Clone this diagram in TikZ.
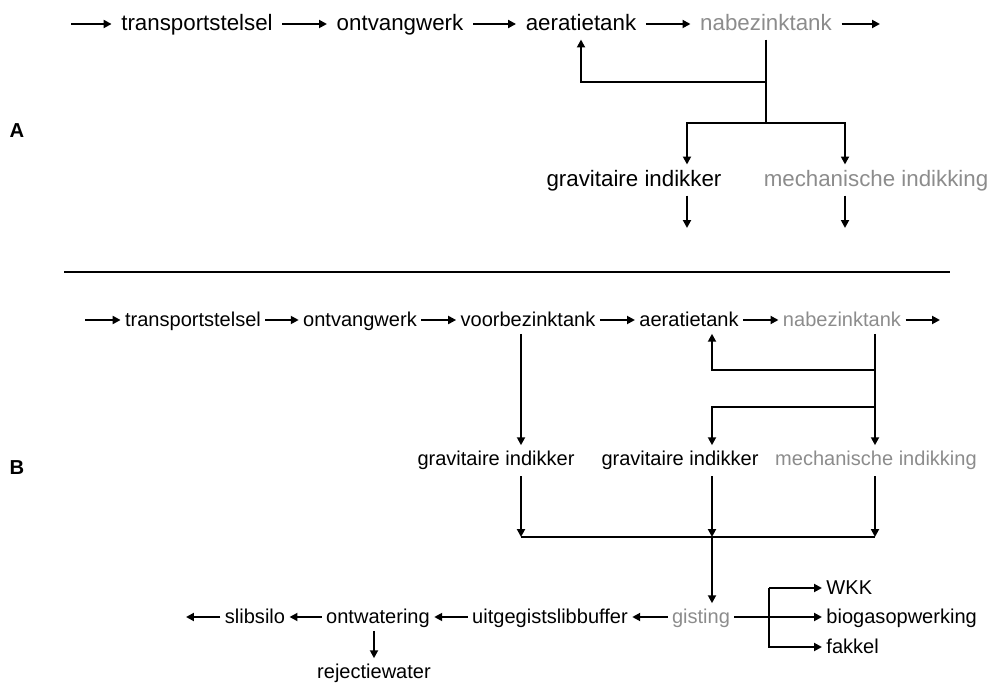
\documentclass[tikz,border=0pt]{standalone}
\usepackage{fontspec}
\setmainfont{Liberation Sans}
\usetikzlibrary{arrows.meta}
\definecolor{paleink}{gray}{0.55}

\begin{document}
\begin{tikzpicture}[x=0.2mm,y=-0.2mm,line width=1.1pt,
	arr/.style={-{Triangle[length=4.5pt,width=4.5pt]}},
	stepA/.style={font=\fontsize{12.7}{15}\selectfont,inner xsep=5pt,inner ysep=3pt,text height=1.7ex,text depth=.3ex},
	stepB/.style={font=\fontsize{11.4}{14}\selectfont,inner xsep=2pt,inner ysep=2pt,text height=1.7ex,text depth=.3ex},
	pale/.style={text=paleink},
	tag/.style={font=\bfseries\fontsize{11.5}{14}\selectfont}]
				\useasboundingbox (0,0) rectangle (991,684);
				\node (labA) at (17,131)[tag] {A};
				\node (labB) at (17,468)[tag] {B};
				\draw[line width=1.5pt] (64,272) -- (950,272);

				\coordinate (inA) at (71,24);
				\coordinate (outA) at (880,24);
				\node (tsA) at (197,24)[stepA] {transportstelsel};
				\node (ovA) at (400,24)[stepA] {ontvangwerk};
				\node (aeA) at (581,24)[stepA] {aeratietank};
				\node (nbA) at (766,24)[stepA,pale] {nabezinktank};
				\node (giA) at (634,180)[stepA] {gravitaire indikker};
				\node (meA) at (754,180)[stepA,pale,anchor=west] {mechanische indikking};
				\draw[arr] (inA) -- (tsA);
				\draw[arr] (tsA) -- (ovA);
				\draw[arr] (ovA) -- (aeA);
				\draw[arr] (aeA) -- (nbA);
				\draw[arr] (nbA) -- (outA);
				\coordinate (fA) at (766,82);
				\coordinate (jA) at (766,123);
				\coordinate (cA1) at (687,123);
				\coordinate (cA2) at (845,123);
				\coordinate (eA1) at (687,228);
				\coordinate (eA2) at (845,228);
				\draw (nbA.south) -- (jA);
				\draw[arr] (fA) -| (aeA.south);
				\draw[arr] (jA) -- (cA1) -- (cA1 |- giA.north);
				\draw[arr] (jA) -- (cA2) -- (cA2 |- meA.north);
				\draw[arr] (cA1 |- giA.south) -- (eA1);
				\draw[arr] (cA2 |- meA.south) -- (eA2);

				\coordinate (inB) at (85,320);
				\coordinate (outB) at (940,320);
				\node (tsB) at (193,320)[stepB] {transportstelsel};
				\node (ovB) at (360,320)[stepB] {ontvangwerk};
				\node (vbB) at (528,320)[stepB] {voorbezinktank};
				\node (aeB) at (689,320)[stepB] {aeratietank};
				\node (nbB) at (842,320)[stepB,pale] {nabezinktank};
				\node (gi1B) at (496,459)[stepB] {gravitaire indikker};
				\node (gi2B) at (680,459)[stepB] {gravitaire indikker};
				\node (meB) at (876,459)[stepB,pale] {mechanische indikking};
				\draw[arr] (inB) -- (tsB);
				\draw[arr] (tsB) -- (ovB);
				\draw[arr] (ovB) -- (vbB);
				\draw[arr] (vbB) -- (aeB);
				\draw[arr] (aeB) -- (nbB);
				\draw[arr] (nbB) -- (outB);
				\coordinate (cB1) at (521,537);
				\coordinate (cB2) at (712,537);
				\coordinate (cB3) at (875,537);
				\coordinate (fB) at (875,370);
				\coordinate (jB) at (875,407);
				\draw (nbB.south -| cB3) -- (jB);
				\draw[arr] (fB) -| (cB2 |- aeB.south);
				\draw[arr] (jB) -| (cB2 |- gi2B.north);
				\draw[arr] (jB) -- (cB3 |- meB.north);
				\draw[arr] (vbB.south -| cB1) -- (cB1 |- gi1B.north);
				\draw[arr] ([yshift=-2pt]cB1 |- gi1B.south) -- (cB1);
				\draw[arr] ([yshift=-2pt]cB2 |- gi2B.south) -- (cB2);
				\draw[arr] ([yshift=-2pt]cB3 |- meB.south) -- (cB3);
				\draw (cB1) -- (cB3);

				\node (gsB) at (701,617)[stepB,pale] {gisting};
				\node (ubB) at (550,617)[stepB] {uitgegistslibbuffer};
				\node (owB) at (378,617)[stepB] {ontwatering};
				\node (ssB) at (255,617)[stepB] {slibsilo};
				\node (rwB) at (374,672)[stepB] {rejectiewater};
				\node (wkB) at (822,588)[stepB,anchor=west] {WKK};
				\node (bgB) at (822,617)[stepB,anchor=west] {biogasopwerking};
				\node (fkB) at (822,647)[stepB,anchor=west] {fakkel};
				\coordinate (endB) at (186,617);
				\coordinate (brB) at (769,617);
				\draw[arr] (cB2) -- (cB2 |- gsB.north);
				\draw[arr] (gsB) -- (ubB);
				\draw[arr] (ubB) -- (owB);
				\draw[arr] (owB) -- (ssB);
				\draw[arr] (ssB) -- (endB);
				\draw[arr] (owB.south -| rwB) -- (rwB.north);
				\draw[arr] (gsB) -- (bgB);
				\draw[arr] (brB |- wkB.west) -- (wkB.west);
				\draw[arr] (brB |- wkB.west) |- (fkB.west);
			\end{tikzpicture}
\end{document}
